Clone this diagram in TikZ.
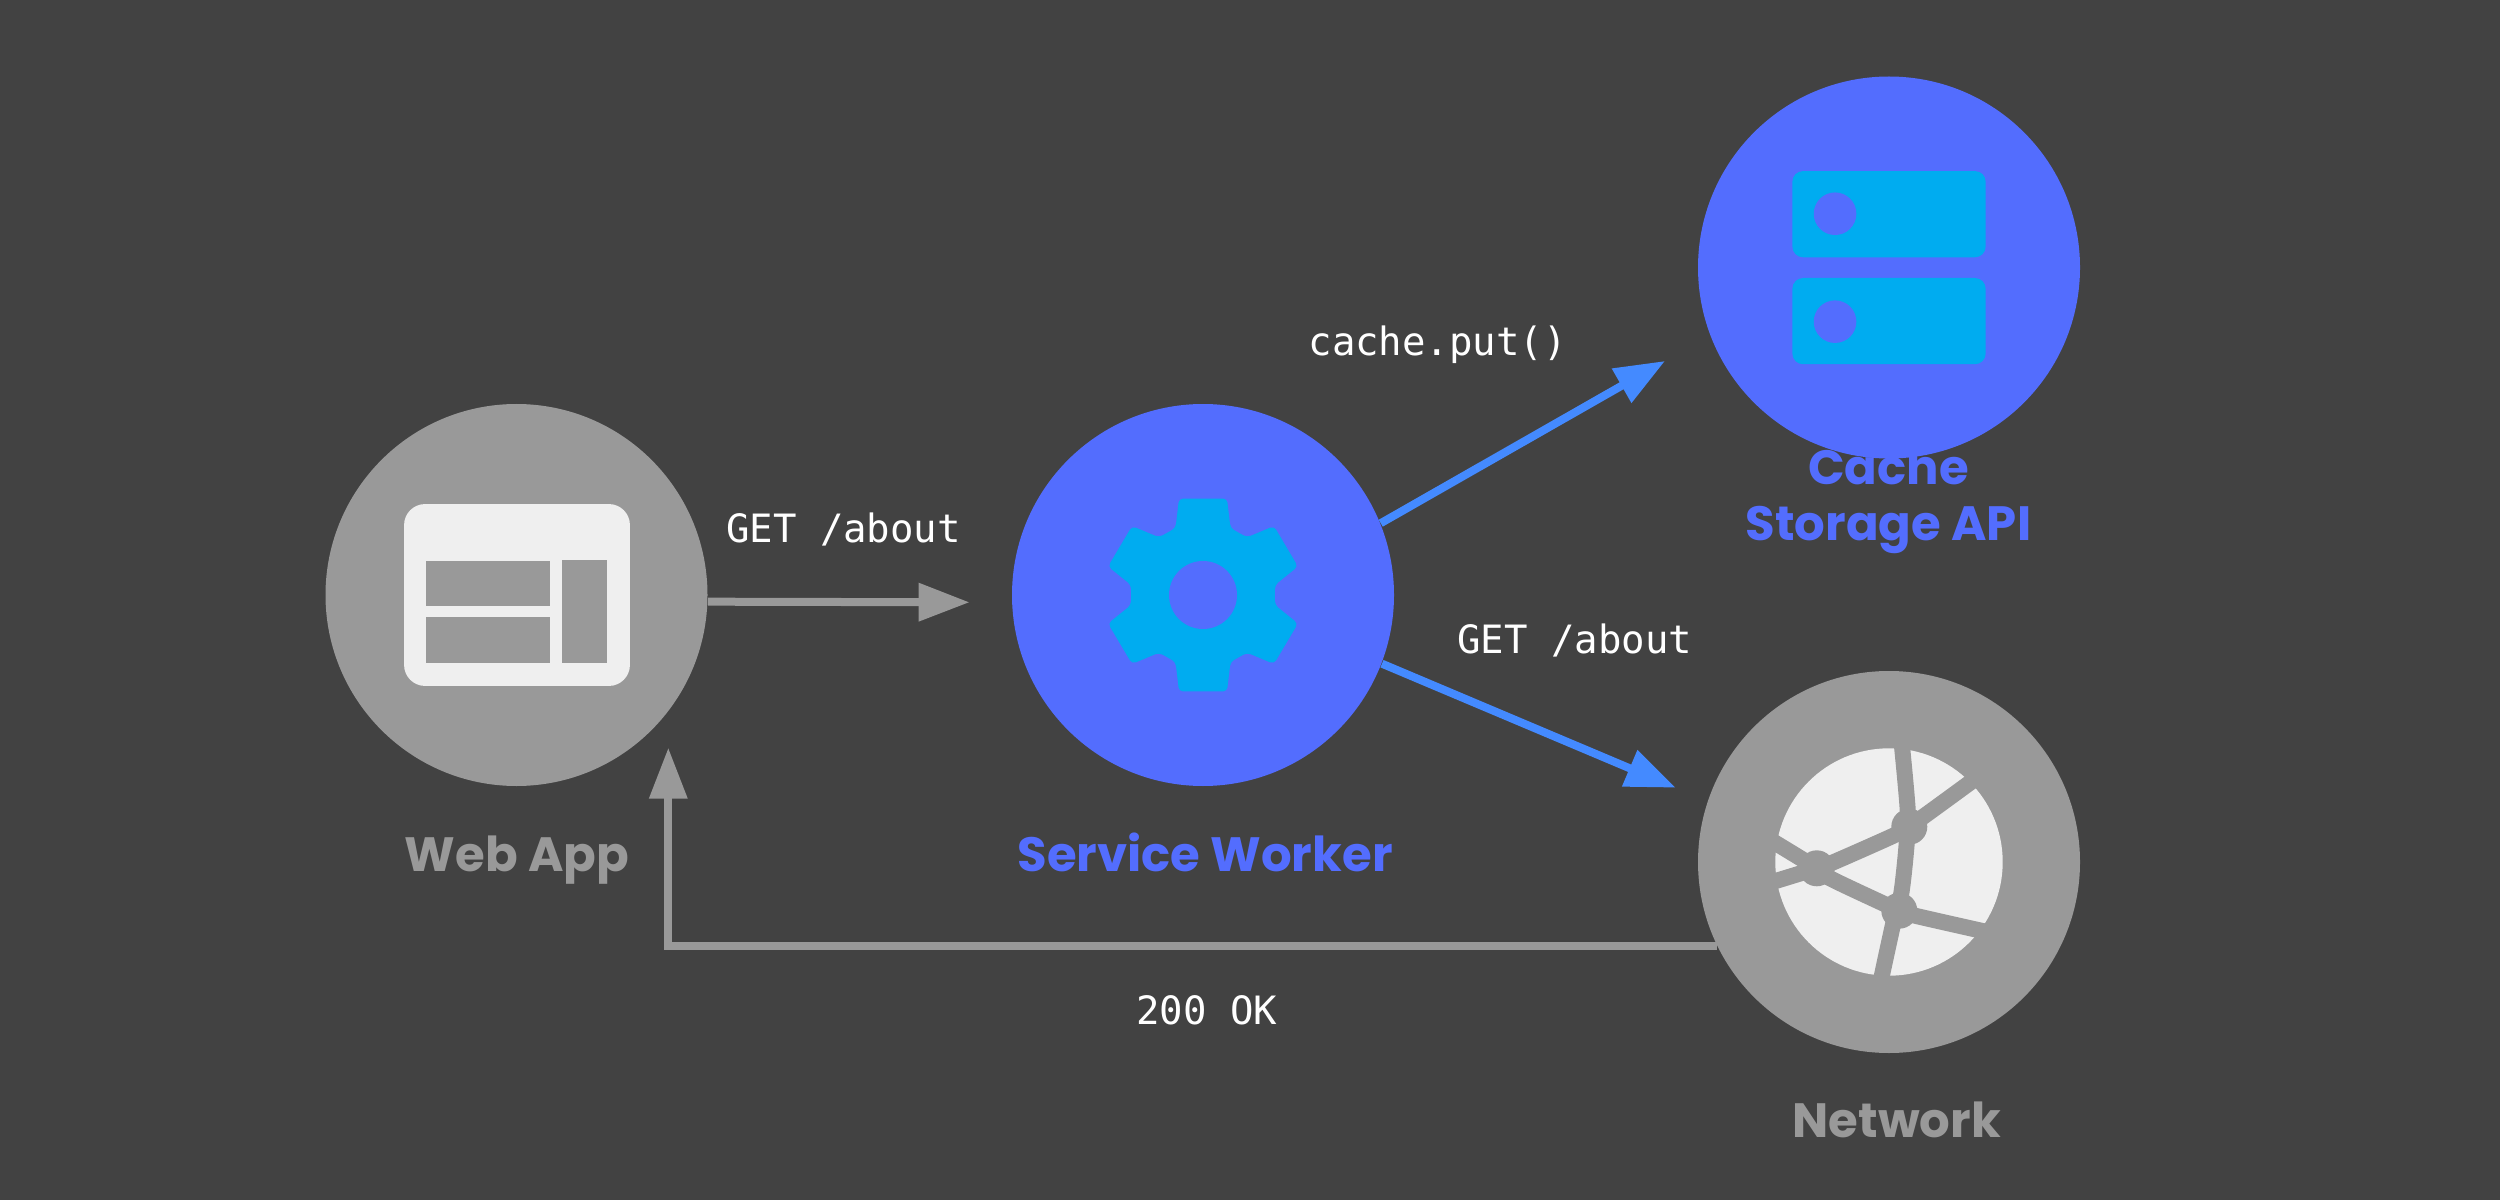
\documentclass[tikz,border=0pt]{standalone}
\usepackage{fontspec}
\usepackage{tikz}
\usetikzlibrary{calc,arrows.meta}

\newfontfamily\titlefont{Poppins}
\newfontfamily\codefont{DejaVu Sans Mono}

\definecolor{bgdark}{HTML}{424242}
\definecolor{midgray}{HTML}{999999}
\definecolor{lightgray}{HTML}{EFEFEF}
\definecolor{indigo}{HTML}{536DFE}
\definecolor{skyblue}{HTML}{00ACF0}
\definecolor{arrowblue}{HTML}{448AFF}

\tikzset{
  graycirc/.style={circle, fill=midgray, minimum size=3.82cm, inner sep=0pt},
  bluecirc/.style={circle, fill=indigo, minimum size=3.82cm, inner sep=0pt},
  codelabel/.style={anchor=base, text=white, inner sep=0pt, font=\codefont\fontsize{11.1}{13}\selectfont},
  graytitle/.style={anchor=base, text=midgray, inner sep=0pt, font=\titlefont\bfseries\fontsize{13.7}{15.93}\selectfont},
  bluetitle/.style={anchor=base, text=indigo, inner sep=0pt, align=center, font=\titlefont\bfseries\fontsize{13.7}{15.93}\selectfont},
  grayarrow/.style={draw=midgray, line width=0.08cm, -{Triangle[length=0.51cm,width=0.366cm]}},
  bluearrow/.style={draw=arrowblue, line width=0.08cm, -{Triangle[length=0.5cm,width=0.375cm]}},
  pixels/.style={x=0.01cm, y=-0.01cm}
}

\begin{document}
\begin{tikzpicture}

% Background
\fill[bgdark] (0,0) rectangle (25,12);
\useasboundingbox (0,0) rectangle (25,12);

% Circles
\node[graycirc] (webcirc) at (5.165,6.05) {};
\node[bluecirc] (swcirc) at (12.03,6.05) {};
\node[bluecirc] (cachecirc) at (18.89,9.325) {};
\node[graycirc] (netcirc) at (18.89,3.38) {};

% Web App icon
\begin{scope}[shift={(webcirc.center)}, pixels]
  \fill[lightgray, rounded corners=0.21cm] (-112.5,-91) rectangle (113.5,91);
  \fill[midgray] (-90.5,-33.7) rectangle (34,11);
  \fill[midgray] (-90.5,22.3) rectangle (34,67.7);
  \fill[midgray] (45.5,-34.7) rectangle (90.5,67.7);
\end{scope}

% Gear icon
\begin{scope}[shift={(swcirc.center)}, pixels]
  \fill[skyblue, rounded corners=0.04cm]
    (-24,-96.5) -- (24,-96.5) -- (27.5,-67) -- (44,-57.7) -- (71,-69)
    -- (95,-28.5) -- (72,-10) -- (72,10) -- (95,28.5) -- (71,69)
    -- (44,57.7) -- (27.5,67) -- (24,96.5) -- (-24,96.5) -- (-27.5,67)
    -- (-44,57.7) -- (-71,69) -- (-95,28.5) -- (-72,10) -- (-72,-10)
    -- (-95,-28.5) -- (-71,-69) -- (-44,-57.7) -- (-27.5,-67) -- cycle;
  \fill[indigo] (0,0) circle[radius=0.34cm];
\end{scope}

% Cache icon
\begin{scope}[shift={(cachecirc.center)}, pixels]
  \fill[skyblue, rounded corners=0.107cm] (-96.7,-96.5) rectangle (96.7,-10.2);
  \fill[skyblue, rounded corners=0.107cm] (-96.7,10.5) rectangle (96.7,96.8);
  \fill[indigo] (-54,-53.8) circle[radius=0.213cm];
  \fill[indigo] (-54,54.2) circle[radius=0.213cm];
\end{scope}

% Network icon
\begin{scope}[shift={(netcirc.center)}, pixels]
  \fill[lightgray] (0,0) circle[radius=1.137cm];
  \draw[midgray, line width=0.16cm] plot[smooth] coordinates
    {(12.7,-118.7) (18.7,-52) (17.7,-18.7) (12.3,31.3) (4.3,61.3) (-10,127)};
  \draw[midgray, line width=0.16cm] plot[smooth] coordinates
    {(-115.7,19.7) (-72.3,6.3) (-56.7,0.7) (4.3,-26.3) (20.3,-35.3) (87.7,-84.3)};
  \draw[midgray, line width=0.16cm] plot[smooth] coordinates
    {(-115.7,-20.3) (-72.3,6.3) (-59,16.3) (-4,42.3) (10.3,48.7) (26,53.7) (101,70.7)};
  \fill[midgray] (-72.3,6.3) circle[radius=0.18cm];
  \fill[midgray] (20.3,-35.3) circle[radius=0.18cm];
  \fill[midgray] (10.3,48.7) circle[radius=0.18cm];
\end{scope}

% Arrow ends
\coordinate (gettip) at (9.696,5.977);
\coordinate (backtip) at (6.683,4.523);
\coordinate (puttip) at (16.65,8.39);
\coordinate (fetchtip) at (16.757,4.123);

% Arrows
\draw[grayarrow] (webcirc.-2.2) -- (gettip);
\draw[grayarrow] (netcirc.206.4) -| (backtip);
\draw[bluearrow] (swcirc.22) -- (puttip);
\draw[bluearrow] (swcirc.-21) -- (fetchtip);

% Code labels
\node[codelabel] (getone) at (8.435,6.573) {GET /about};
\node[codelabel] (gettwo) at (15.747,5.467) {GET /about};
\node[codelabel] (putlabel) at (14.377,8.45) {cache.put()};
\node[codelabel] (oklabel) at (12.068,1.76) {200 OK};

% Titles
\node[graytitle] (webtitle) at (5.17,3.29) {Web App};
\node[bluetitle] (swtitle) at (12.05,3.29) {Service Worker};
\node[bluetitle] (cachetitle) at (18.885,6.6) {Cache\\Storage API};
\node[graytitle] (nettitle) at (18.967,0.63) {Network};

\end{tikzpicture}
\end{document}
